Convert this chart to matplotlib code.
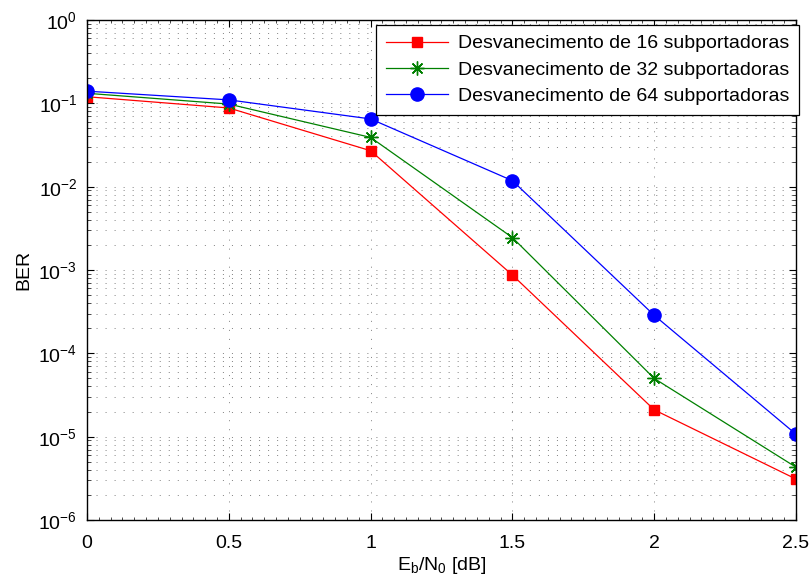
import matplotlib
matplotlib.use('Agg')
import matplotlib.pyplot as plt
from matplotlib.ticker import MultipleLocator, LogLocator
import numpy as np

plt.rcParams['font.family'] = ['Liberation Sans', 'DejaVu Sans']
plt.rcParams['mathtext.fontset'] = 'custom'
plt.rcParams['mathtext.rm'] = 'Liberation Sans'
plt.rcParams['mathtext.it'] = 'Liberation Sans:italic'

# Eb/N0 values (dB)
ebn0 = [0, 0.5, 1, 1.5, 2, 2.5]
xtick_labels = ['0', '0.5', '1', '1.5', '2', '2.5']

# BER
ber_16 = [0.12, 0.088, 0.027, 8.7e-4, 2.1e-5, 3.1e-6]
ber_32 = [0.132, 0.098, 0.039, 2.45e-3, 5.0e-5, 4.3e-6]
ber_64 = [0.14, 0.11, 0.065, 0.0118, 2.86e-4, 1.07e-5]

labels = ['Desvanecimento de 16 subportadoras',
          'Desvanecimento de 32 subportadoras',
          'Desvanecimento de 64 subportadoras']

fig = plt.figure(figsize=(8.09, 5.79), dpi=100)
ax = fig.add_axes([87/809, 1-520/579, (796-87)/809, (520-20)/579])

green = (0, 0.5, 0)
ax.semilogy(ebn0, ber_16, color='r', lw=0.9, marker='s', ms=7.5, mec='r', mfc='r', label=labels[0])
ax.semilogy(ebn0, ber_32, color=green, lw=0.9, marker=(8, 2, 0), ms=10, mec=green, mfc='none',
            mew=1.0, label=labels[1])
ax.semilogy(ebn0, ber_64, color='b', lw=0.9, marker='o', ms=9.5, mec='b', mfc='b', label=labels[2])

ax.set_xlim(0, 2.5)
ax.set_ylim(1e-6, 1e0)
ax.set_xticks(ebn0)
ax.set_xticklabels(xtick_labels)
ax.xaxis.set_minor_locator(MultipleLocator(0.5/12))
ax.yaxis.set_major_locator(LogLocator(base=10, numticks=10))
ax.yaxis.set_minor_locator(LogLocator(base=10, subs=np.arange(2, 10), numticks=100))

ax.tick_params(which='both', direction='in', top=True, right=True, labelsize=14)
ax.tick_params(axis='x', pad=11)
ax.tick_params(axis='y', pad=7)
ax.tick_params(which='major', length=5, width=0.8)
ax.tick_params(which='minor', length=3, width=0.5)
ax.tick_params(axis='x', which='minor', length=2)

dots = (0, (1.5, 11.5))
ax.grid(True, axis='x', which='major', color='0.35', lw=0.5, linestyle=dots)
ax.grid(True, axis='y', which='both', color='0.35', lw=0.5, linestyle=dots)
for s in ax.spines.values():
    s.set_linewidth(1.0)

ax.set_xlabel(r'E$_\mathregular{b}$/N$_\mathregular{0}$ [dB]', fontsize=14, labelpad=2)
ax.set_ylabel('BER', fontsize=14, labelpad=4)

leg = ax.legend(loc='upper right', bbox_to_anchor=(799/809, 1-25/579), bbox_transform=fig.transFigure,
                fontsize=14, fancybox=False, framealpha=1, edgecolor='k', borderpad=0.5,
                labelspacing=0.45, handlelength=3.2, handletextpad=0.5, borderaxespad=0)
leg.get_frame().set_linewidth(0.9)

fig.savefig('out.png', dpi=100)
